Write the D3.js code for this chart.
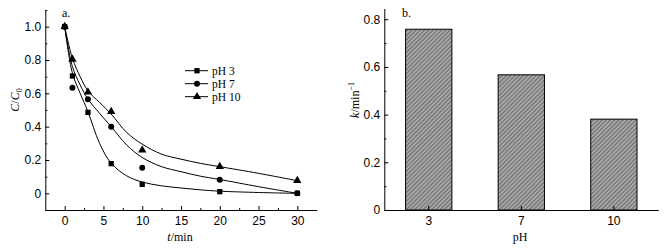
<!DOCTYPE html>
<html>
<head>
<meta charset="utf-8">
<script src="https://cdn.jsdelivr.net/npm/d3@7"></script>
<style>
  body { margin: 0; background: #fff; }
  svg { display: block; font-family: "Liberation Serif", "Times New Roman", serif; }
  .axis text { font-size: 12px; fill: #000; }
  .axis path, .axis line { stroke: #000; stroke-width: 1; }
</style>
</head>
<body>
<svg id="chart" width="671" height="252"></svg>
<script>
// panel a: measured points
const times = [0, 1, 3, 6, 10, 20, 30];
const ph3 = [1.0, 0.704, 0.486, 0.178, 0.054, 0.010, 0.0];
const ph7 = [1.0, 0.634, 0.564, 0.400, 0.154, 0.082, 0.0];
const ph10 = [1.0, 0.804, 0.608, 0.490, 0.260, 0.160, 0.076];

// panel a: fitted curves
const fitTimes = [0, 1, 2, 3, 4.5, 6, 8, 10, 12.5, 15, 17.5, 20, 25, 30];
const fit3 = [1.0, 0.72, 0.60, 0.49, 0.30, 0.18, 0.105, 0.068, 0.045, 0.032, 0.021, 0.013, 0.005, 0.0];
const fit7 = [1.0, 0.76, 0.65, 0.565, 0.48, 0.40, 0.29, 0.215, 0.16, 0.13, 0.103, 0.083, 0.04, 0.0];
const fit10 = [1.0, 0.81, 0.70, 0.615, 0.545, 0.475, 0.365, 0.295, 0.235, 0.205, 0.18, 0.16, 0.12, 0.076];

const seriesNames = ["pH 3", "pH 7", "pH 10"];
const xTicksA = [0, 5, 10, 15, 20, 25, 30];
const yTicksA = [0, 0.2, 0.4, 0.6, 0.8, 1.0];

// panel b
const phLabels = ["3", "7", "10"];
const kValues = [0.758, 0.567, 0.381];
const yTicksB = [0, 0.2, 0.4, 0.6, 0.8];

const svg = d3.select("#chart");

// hatch for the bars
const defs = svg.append("defs");
const pat = defs.append("pattern")
    .attr("id", "hatch")
    .attr("patternUnits", "userSpaceOnUse")
    .attr("width", 3).attr("height", 3)
    .attr("patternTransform", "rotate(45)");
pat.append("rect").attr("width", 3).attr("height", 3).attr("fill", "#a6a6a6");
pat.append("line").attr("x1", 0).attr("y1", 0).attr("x2", 0).attr("y2", 3)
    .attr("stroke", "#444").attr("stroke-width", 1.2);

// ---------- panel a ----------
const xA = d3.scaleLinear().domain([-2.5, 32.5]).range([45.3, 316.7]);
const yA = d3.scaleLinear().domain([-0.1, 1.1]).range([210, 10]);

const gA = svg.append("g");

gA.append("g").attr("class", "axis")
    .attr("transform", "translate(0,210)")
    .call(d3.axisBottom(xA).tickValues(xTicksA).tickSize(-4).tickSizeOuter(0).tickPadding(6));
gA.append("g").attr("class", "axis")
    .attr("transform", "translate(0,210)")
    .call(d3.axisBottom(xA).tickValues(xTicksA.slice(0, -1).map(d => d + 2.5)).tickSize(-2).tickFormat(""))
    .select(".domain").remove();

gA.append("g").attr("class", "axis")
    .attr("transform", "translate(45.3,0)")
    .call(d3.axisLeft(yA).tickValues(yTicksA).tickSize(-4).tickSizeOuter(0).tickPadding(4)
        .tickFormat(d => d === 0 ? "0" : d3.format(".1f")(d)));
gA.append("g").attr("class", "axis")
    .attr("transform", "translate(45.3,0)")
    .call(d3.axisLeft(yA).tickValues([-0.1].concat(yTicksA.map(d => d + 0.1))).tickSize(-2).tickFormat(""))
    .select(".domain").remove();

const line = d3.line().x(d => xA(d[0])).y(d => yA(d[1])).curve(d3.curveCatmullRom.alpha(0.5));
[fit3, fit7, fit10].forEach(f => {
    gA.append("path")
        .attr("d", line(fitTimes.map((t, i) => [t, f[i]])))
        .attr("fill", "none").attr("stroke", "#000").attr("stroke-width", 1);
});

const square = d3.symbol().type(d3.symbolSquare).size(28);
const circle = d3.symbol().type(d3.symbolCircle).size(28);
const tri = d3.symbol().type(d3.symbolTriangle).size(30);
const shapes = [square, circle, tri];

[ph3, ph7, ph10].forEach((s, k) => {
    gA.selectAll(null).data(times.map((t, i) => [t, s[i]])).join("path")
        .attr("transform", d => `translate(${xA(d[0])},${yA(d[1])})`)
        .attr("d", shapes[k]())
        .attr("fill", "#000");
});

// legend
seriesNames.forEach((n, i) => {
    const ly = 70.7 + i * 13;
    gA.append("line").attr("x1", 185).attr("x2", 208).attr("y1", ly).attr("y2", ly)
        .attr("stroke", "#000").attr("stroke-width", 1);
    gA.append("path").attr("transform", `translate(197,${ly})`).attr("d", shapes[i]()).attr("fill", "#000");
    gA.append("text").attr("x", 212).attr("y", ly + 4).attr("font-size", 11.5).text(n);
});

gA.append("text").attr("x", 62).attr("y", 17).attr("font-size", 12).text("a.");

const yLabA = gA.append("text").attr("transform", "translate(19,100) rotate(-90)")
    .attr("text-anchor", "middle").attr("font-size", 12);
yLabA.append("tspan").attr("font-style", "italic").text("C");
yLabA.append("tspan").text("/");
yLabA.append("tspan").attr("font-style", "italic").text("C");
yLabA.append("tspan").attr("font-size", 8).attr("dy", 3).text("0");

const xLabA = gA.append("text").attr("x", 180).attr("y", 241)
    .attr("text-anchor", "middle").attr("font-size", 12);
xLabA.append("tspan").attr("font-style", "italic").text("t");
xLabA.append("tspan").text("/min");

// ---------- panel b ----------
const xB = d3.scaleBand().domain(phLabels).range([384.3, 658.3]).paddingInner(0.5).paddingOuter(0.23);
const yB = d3.scaleLinear().domain([0, 0.845]).range([210, 8.5]);

const gB = svg.append("g");

gB.selectAll("rect").data(phLabels).join("rect")
    .attr("x", d => xB(d))
    .attr("y", (d, i) => yB(kValues[i]))
    .attr("width", xB.bandwidth())
    .attr("height", (d, i) => yB(0) - yB(kValues[i]))
    .attr("fill", "url(#hatch)")
    .attr("stroke", "#000").attr("stroke-width", 1);

gB.append("g").attr("class", "axis")
    .attr("transform", "translate(0,210)")
    .call(d3.axisBottom(xB).tickSize(-4).tickSizeOuter(0).tickPadding(6));

gB.append("g").attr("class", "axis")
    .attr("transform", "translate(384.3,0)")
    .call(d3.axisLeft(yB).tickValues(yTicksB).tickSize(-4).tickSizeOuter(0).tickPadding(4)
        .tickFormat(d => d === 0 ? "0" : d3.format(".1f")(d)));
gB.append("g").attr("class", "axis")
    .attr("transform", "translate(384.3,0)")
    .call(d3.axisLeft(yB).tickValues(yTicksB.map(d => d + 0.1)).tickSize(-2).tickFormat(""))
    .select(".domain").remove();

gB.append("text").attr("x", 402).attr("y", 17).attr("font-size", 12).text("b.");

const yLabB = gB.append("text").attr("transform", "translate(359,100) rotate(-90)")
    .attr("text-anchor", "middle").attr("font-size", 12);
yLabB.append("tspan").attr("font-style", "italic").text("k");
yLabB.append("tspan").text("/min");
yLabB.append("tspan").attr("font-size", 8).attr("dy", -5).text("−1");

gB.append("text").attr("x", 520).attr("y", 241).attr("text-anchor", "middle")
    .attr("font-size", 12).text("pH");
</script>
</body>
</html>
